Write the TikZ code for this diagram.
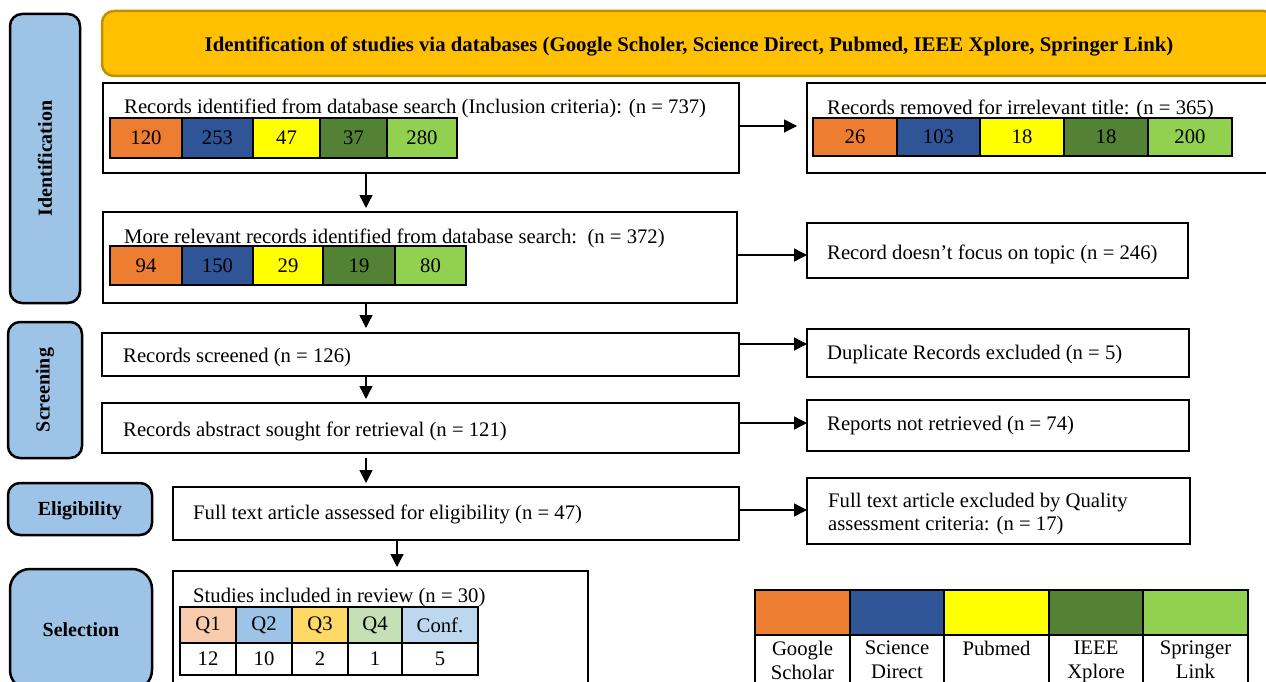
\documentclass[tikz,border=0pt]{standalone}
\usepackage{fontspec}
\setmainfont{Liberation Serif}
\usetikzlibrary{arrows.meta,calc}
\definecolor{cGS}{HTML}{ED7D31}
\definecolor{cSD}{HTML}{2F5597}
\definecolor{cPM}{HTML}{FFFF00}
\definecolor{cIE}{HTML}{548235}
\definecolor{cSL}{HTML}{92D050}
\definecolor{cQa}{HTML}{F8CBAD}
\definecolor{cQb}{HTML}{9DC3E6}
\definecolor{cQc}{HTML}{FFD966}
\definecolor{cQd}{HTML}{C5E0B4}
\definecolor{cQe}{HTML}{BDD7EE}
\definecolor{sidefill}{HTML}{9DC3E6}
\definecolor{hdrfill}{HTML}{FFC000}
\definecolor{hdrline}{HTML}{BF9000}
\newcommand\txtsize{\fontsize{20.7}{23}\selectfont}
\newcommand\legsize{\fontsize{20.7}{24}\selectfont}
\newcommand\mycell[7]{\node[cellbox,fill=#6,minimum width={#4-#2},minimum height={#5-#3}] (#1) at ({(#2+#4)/2},{(#3+#5)/2}) {#7};}
\newcommand\mybox[6]{\node[#2,minimum width={#5-#3},minimum height={#6-#4}] (#1) at ({(#3+#5)/2},{(#4+#6)/2}) {};}
\tikzset{
  flowbox/.style={draw=black,line width=2.5pt,fill=white,inner sep=0pt,outer sep=0pt},
  sidebox/.style={draw=black,line width=2.5pt,fill=sidefill,rounded corners=12pt,inner sep=0pt,outer sep=0pt},
  hdrbox/.style={draw=hdrline,line width=2.5pt,fill=hdrfill,rounded corners=12pt,inner sep=0pt,outer sep=0pt},
  cellbox/.style={draw=black,line width=2pt,inner sep=0pt,outer sep=0pt,font=\txtsize},
  lbl/.style={anchor=west,inner sep=0pt,font=\txtsize},
  sidetxt/.style={inner sep=0pt,font=\fontsize{20}{23}\selectfont\bfseries},
  arr/.style={line width=1.4pt,-{Triangle[length=13pt,width=13pt]}},
  legtxt/.style={anchor=north,inner sep=0pt,align=center,font=\legsize},
}
\begin{document}
\begin{tikzpicture}[x=1pt,y=-1pt]
\useasboundingbox (0,0) rectangle (1266,682);
\clip (0,0) rectangle (1266,682);
\fill[white] (0,0) rectangle (1266,682);

% side labels
\mybox{idL}{sidebox}{10}{14}{80}{303}
\node[sidetxt,rotate=90] (idT) at (idL.center) {Identification};
\mybox{scrL}{sidebox}{8}{322}{82}{458}
\node[sidetxt,rotate=90] (scrT) at (scrL.center) {Screening};
\mybox{eliL}{sidebox}{8}{483}{152}{535}
\node[sidetxt] (eliT) at (80,511) {Eligibility};
\mybox{selL}{sidebox,rounded corners=20pt}{10}{569}{152}{690}
\node[sidetxt] (selT) at (81,630) {Selection};

% header
\mybox{hdr}{hdrbox}{102}{11}{1276}{76}
\node[sidetxt,font=\fontsize{20.8}{23}\selectfont\bfseries] (hdrT) at (689,46) {Identification of studies via databases (Google Scholer, Science Direct, Pubmed, IEEE Xplore, Springer Link)};

% box A
\mybox{A}{flowbox}{103}{83}{739}{173}
\node[lbl] (At) at (124,108) {Records identified from database search (Inclusion criteria): (n = 737)};
\mycell{a1}{110}{118}{182}{158}{cGS}{120}
\mycell{a2}{182}{118}{253}{158}{cSD}{253}
\mycell{a3}{253}{118}{320}{158}{cPM}{47}
\mycell{a4}{320}{118}{387}{158}{cIE}{37}
\mycell{a5}{387}{118}{457}{158}{cSL}{280}

% box B
\mybox{B}{flowbox}{807}{83}{1300}{173}
\node[lbl] (Bt) at (827,109) {Records removed for irrelevant title: (n = 365)};
\mycell{b1}{813}{118}{897}{156}{cGS}{26}
\mycell{b2}{897}{118}{980}{156}{cSD}{103}
\mycell{b3}{980}{118}{1064}{156}{cPM}{18}
\mycell{b4}{1064}{118}{1148}{156}{cIE}{18}
\mycell{b5}{1148}{118}{1232}{156}{cSL}{200}

% box C
\mybox{C}{flowbox}{103}{212}{737}{303}
\node[lbl] (Ct) at (124,238) {More relevant records identified from database search:\ \ (n = 372)};
\mycell{c1}{110}{246}{182}{285}{cGS}{94}
\mycell{c2}{182}{246}{253}{285}{cSD}{150}
\mycell{c3}{253}{246}{323}{285}{cPM}{29}
\mycell{c4}{323}{246}{395}{285}{cIE}{19}
\mycell{c5}{395}{246}{466}{285}{cSL}{80}

% box D
\mybox{D}{flowbox}{807}{223}{1188}{278}
\node[lbl] (Dt) at (827,254) {Record doesn’t focus on topic (n = 246)};

% box E, F, G
\mybox{E}{flowbox}{102}{333}{739}{376}
\node[lbl] (Et) at (123,358) {Records screened (n = 126)};
\mybox{F}{flowbox}{102}{403}{739}{453}
\node[lbl] (Ft) at (123,431) {Records abstract sought for retrieval (n = 121)};
\mybox{G}{flowbox}{173}{487}{739}{540}
\node[lbl] (Gt) at (193,514) {Full text article assessed for eligibility (n = 47)};

% box I, J, K
\mybox{I}{flowbox}{807}{329}{1189}{377}
\node[lbl] (It) at (827,355) {Duplicate Records excluded (n = 5)};
\mybox{J}{flowbox}{807}{400}{1189}{451}
\node[lbl] (Jt) at (827,426) {Reports not retrieved (n = 74)};
\mybox{K}{flowbox}{807}{478}{1190}{544}
\node[lbl,align=left,anchor=north west] (Kt) at (828,493) {Full text article excluded by Quality\\assessment criteria: (n = 17)};

% box H
\mybox{H}{flowbox}{173}{571}{588}{700}
\node[lbl] (Ht) at (193,598) {Studies included in review (n = 30)};
\mycell{h1}{180}{607}{236}{643}{cQa}{Q1}
\mycell{h2}{236}{607}{292}{643}{cQb}{Q2}
\mycell{h3}{292}{607}{348}{643}{cQc}{Q3}
\mycell{h4}{348}{607}{402}{643}{cQd}{Q4}
\mycell{h5}{402}{607}{478}{643}{cQe}{Conf.}
\mycell{v1}{180}{643}{236}{675}{white}{12}
\mycell{v2}{236}{643}{292}{675}{white}{10}
\mycell{v3}{292}{643}{348}{675}{white}{2}
\mycell{v4}{348}{643}{402}{675}{white}{1}
\mycell{v5}{402}{643}{478}{675}{white}{5}

% legend
\mycell{l1}{755}{590}{850}{635}{cGS}{}
\mycell{l2}{850}{590}{944}{635}{cSD}{}
\mycell{l3}{944}{590}{1049}{635}{cPM}{}
\mycell{l4}{1049}{590}{1143}{635}{cIE}{}
\mycell{l5}{1143}{590}{1248}{635}{cSL}{}
\mycell{m1}{755}{635}{850}{700}{white}{}
\mycell{m2}{850}{635}{944}{700}{white}{}
\mycell{m3}{944}{635}{1049}{700}{white}{}
\mycell{m4}{1049}{635}{1143}{700}{white}{}
\mycell{m5}{1143}{635}{1248}{700}{white}{}
\node[legtxt] (m1t) at (m1.north |- 0,641) {Google\\Scholar};
\node[legtxt] (m2t) at (m2.north |- 0,641) {Science\\Direct};
\node[legtxt] (m3t) at (m3.north |- 0,641) {Pubmed};
\node[legtxt] (m4t) at (m4.north |- 0,641) {IEEE\\Xplore};
\node[legtxt] (m5t) at (m5.north |- 0,641) {Springer\\Link};

% connectors
\coordinate (xa) at (366,0);
\coordinate (xg) at (397,0);
\coordinate (yab) at (0,126);
\coordinate (ycd) at (0,255);
\coordinate (yei) at (0,344);
\coordinate (yfj) at (0,423);
\coordinate (ygk) at (0,510);
\draw[arr,shorten >=10pt] (A.east |- yab) -- (B.west |- yab);
\draw[arr] (C.east |- ycd) -- (D.west |- ycd);
\draw[arr] (E.east |- yei) -- (I.west |- yei);
\draw[arr] (F.east |- yfj) -- (J.west |- yfj);
\draw[arr] (G.east |- ygk) -- (K.west |- ygk);
\draw[arr,shorten >=4pt] (A.south -| xa) -- (C.north -| xa);
\draw[arr,shorten >=5pt] (C.south -| xa) -- (E.north -| xa);
\draw[arr,shorten >=4pt] (E.south -| xa) -- (F.north -| xa);
\draw[arr,shorten <=5pt,shorten >=4pt] (F.south -| xa) -- (G.north -| xa);
\draw[arr,shorten >=4pt] (G.south -| xg) -- (H.north -| xg);
\end{tikzpicture}
\end{document}
